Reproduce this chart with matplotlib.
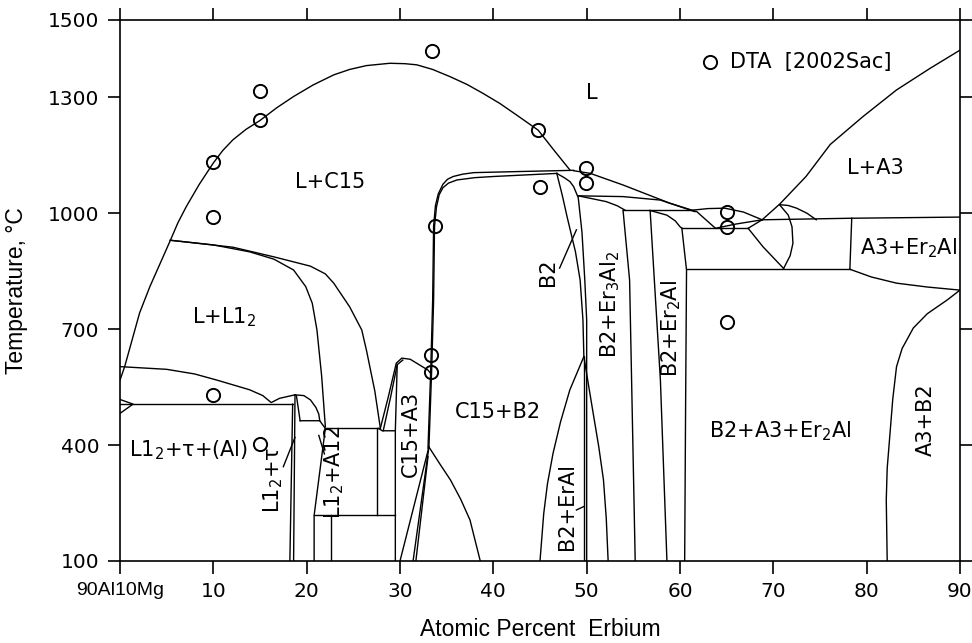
import matplotlib
matplotlib.use("Agg")
import matplotlib.pyplot as plt

# -------------------------
# Fasegrænser (x = at.% Er, T = °C)
# -------------------------
liq_l12 = [(0, 568), (0.5, 603), (1.1, 655), (2.1, 742), (3.2, 810), (4.3, 870), (5.4, 930)]
liq_c15 = [(5.4, 930), (6.2, 975), (7.1, 1017), (8.5, 1075), (10, 1130), (11, 1162),
           (12.1, 1190), (13.5, 1217), (15, 1240), (16.8, 1273), (18.6, 1302),
           (20.7, 1332), (22.9, 1358), (24.6, 1372), (26.4, 1382), (28.9, 1388),
           (30.5, 1387), (31.8, 1384), (33.5, 1372), (35.4, 1353), (37.2, 1333),
           (38.9, 1310), (40.7, 1284), (42.5, 1254), (44.8, 1215), (46.5, 1163),
           (48.2, 1112)]
l12_inner = [(5.4, 930), (10.0, 918), (13.9, 900), (16.5, 881), (18.6, 853), (19.9, 810),
             (20.6, 767), (21.1, 698), (21.6, 580), (22.0, 448)]
l12_outer = [(5.4, 930), (12.1, 912), (16.5, 887), (20.4, 863), (22.0, 843), (22.9, 819),
             (24.6, 758), (25.9, 698), (26.4, 646), (27.3, 540), (27.9, 443)]

al_solvus = [(0, 603), (5.0, 596), (8.0, 584), (10.4, 568), (13.9, 543), (15.3, 528),
             (16.2, 510), (17.1, 521), (18.75, 530)]
al_eutectic = [(0, 506), (18.5, 506)]
al_wedge = [(0, 518), (1.4, 506), (0, 482)]
tau_left = [(18.5, 506), (18.2, 100)]
tau_right = [(18.75, 530), (18.6, 100)]
tau_inner = [(18.9, 528), (19.3, 463)]
tau_dome = [(18.75, 530), (19.7, 528), (20.4, 517), (21.0, 497), (21.3, 480), (21.4, 463)]
h463 = [(19.3, 463), (21.4, 463), (22.0, 443)]
h443 = [(22.0, 443), (27.7, 443)]
a12_left = [(22.0, 443), (20.8, 218), (20.8, 100)]
h218 = [(20.8, 218), (29.5, 218)]
v22 = [(22.6, 218), (22.6, 100)]
v27 = [(27.5, 443), (27.5, 218)]
box_top = [(27.7, 443), (28.1, 437), (29.5, 437)]
v29 = [(29.7, 608), (29.5, 437), (29.5, 100)]

c15a3_outer = [(27.9, 444), (28.75, 525), (29.6, 612), (30.2, 625), (31.1, 622),
               (33.0, 594), (33.3, 585)]
c15a3_inner = [(28.2, 437), (29.0, 525), (29.7, 608), (30.3, 620)]
c15_diag1 = [(30.0, 100), (33.1, 395)]
c15_diag2 = [(31.4, 100), (33.1, 395)]
c15_diag3 = [(31.7, 100), (33.0, 370)]
c15_b2 = [(33.1, 395), (34.3, 350), (35.4, 310), (36.5, 260), (37.5, 206), (38.6, 100)]
c15_a = [(33.0, 392), (33.3, 600), (33.5, 775), (33.6, 966), (33.8, 1020), (34.1, 1050),
         (34.6, 1075), (35.1, 1088), (35.7, 1095), (36.7, 1101), (37.9, 1105),
         (43.0, 1108), (48.6, 1111)]
c15_b = [(33.1, 395), (33.4, 600), (33.6, 775), (33.7, 966), (33.9, 1015), (34.2, 1048),
         (34.6, 1066), (35.2, 1078), (36.1, 1086), (38.0, 1092), (40.0, 1095), (46.8, 1103)]

b2_left = [(46.8, 1103), (47.4, 1045), (47.9, 991), (48.8, 900), (49.3, 827), (49.6, 724),
           (49.7, 629)]
b2_right = [(46.8, 1103), (47.6, 1092), (48.2, 1082), (48.6, 1069), (49.1, 1040),
            (49.5, 950), (49.8, 827), (50.0, 724), (50.0, 100)]
eral_v = [(49.7, 629), (49.7, 100)]
eral_left = [(49.7, 629), (48.2, 543), (47.2, 460), (46.4, 379), (45.8, 300),
             (45.4, 223), (45.0, 100)]
eral_right = [(49.7, 629), (50.2, 555), (50.7, 482), (51.3, 395), (51.8, 310),
              (52.1, 210), (52.3, 100)]

liq_right = [(48.6, 1110), (50.4, 1103), (53.9, 1073), (58.9, 1026), (61.8, 1004), (63.8, 961)]
liq_second = [(49.1, 1045), (53.9, 1043), (57.9, 1034), (61.6, 1004)]
er3al2_top = [(49.1, 1045), (52.1, 1030), (53.3, 1019), (54.1, 1008)]
h1008 = [(53.9, 1008), (61.4, 1008)]
arc_dta = [(61.4, 1008), (63.0, 1012), (64.8, 1013), (66.8, 1003), (68.8, 983)]
v_line = [(63.8, 961), (66.0, 972), (68.8, 983)]
er3al2_right = [(53.9, 1007), (54.6, 827), (55.2, 100)]
er2al_left = [(56.8, 1007), (57.9, 568), (58.6, 100)]
er2al_top = [(56.8, 1007), (58.6, 995), (59.5, 980), (60.0, 965), (60.2, 961)]
er2al_right = [(60.2, 961), (60.7, 853), (60.6, 500), (60.5, 100)]
h961 = [(60.2, 961), (67.3, 961)]
h855 = [(60.7, 855), (78.2, 855)]
lens_left = [(67.3, 961), (68.9, 913), (71.1, 857)]
lens_right = [(70.7, 1021), (71.6, 995), (72.0, 965), (72.1, 922), (71.8, 890), (71.1, 857)]
lens_top = [(67.3, 961), (68.8, 983)]
liq_a3 = [(68.8, 983), (70.7, 1024), (73.5, 1095), (76.1, 1178), (79.6, 1250),
          (83.2, 1319), (86.8, 1375), (90, 1422)]
a3_dome = [(70.7, 1022), (71.6, 1020), (72.5, 1013), (73.6, 1000), (74.6, 983)]
h985 = [(68.8, 983), (78.4, 987), (90, 990)]
v78 = [(78.4, 987), (78.2, 855)]
er2al_a3 = [(78.2, 855), (80.5, 835), (83.2, 819), (86.5, 809), (90, 801)]
a3_b2 = [(90, 801), (88.6, 775), (86.5, 740), (85.0, 703), (83.8, 650), (83.2, 603),
         (82.8, 520), (82.5, 430), (82.2, 340), (82.1, 258), (82.2, 100)]

# små henvisningsstreger til labels
ptr_tau = [(17.5, 344), (18.75, 420)]
ptr_a12 = [(21.3, 425), (21.9, 377)]
ptr_b2 = [(47.1, 858), (48.9, 957)]
ptr_eral = [(48.9, 232), (49.7, 241)]

boundaries = [liq_l12, liq_c15, l12_inner, l12_outer, al_solvus, al_eutectic, al_wedge,
              tau_left, tau_right, tau_inner, tau_dome, h463, h443, a12_left, h218, v22,
              v27, box_top, v29, c15a3_outer, c15a3_inner, c15_diag1, c15_diag2, c15_diag3,
              c15_b2, c15_a, c15_b, b2_left, b2_right, eral_v, eral_left, eral_right,
              liq_right, liq_second, er3al2_top, h1008, arc_dta, v_line, er3al2_right,
              er2al_left, er2al_top, er2al_right, h961, h855, lens_left, lens_right,
              lens_top, liq_a3, a3_dome, h985, v78, er2al_a3, a3_b2,
              ptr_tau, ptr_a12, ptr_b2, ptr_eral]

# DTA-data [2002Sac]
dta_x = [10, 10, 15, 15, 10, 15, 33.4, 33.7, 33.3, 33.3, 44.8, 45.0, 49.9, 49.9, 65, 65, 65]
dta_T = [1133, 991, 1315, 1240, 530, 403, 1421, 967, 633, 590, 1215, 1067, 1116, 1077,
         1002, 964, 719]

# fase-labels: (x, T, tekst, rotation)
labels = [
    (50.6, 1310, "L", 0),
    (22.5, 1080, "L+C15", 0),
    (11.2, 730, r"L+L1$_2$", 0),
    (7.3, 387, r"L1$_2$+τ+(Al)", 0),
    (16.4, 310, r"L1$_2$+τ", 90),
    (23.0, 330, r"L1$_2$+A12", 90),
    (31.2, 429, "C15+A3", 90),
    (40.5, 486, "C15+B2", 0),
    (45.9, 848, "B2", 90),
    (52.5, 765, r"B2+Er$_3$Al$_2$", 90),
    (47.9, 242, "B2+ErAl", 90),
    (59.1, 703, r"B2+Er$_2$Al", 90),
    (70.7, 435, r"B2+A3+Er$_2$Al", 0),
    (86.3, 465, "A3+B2", 90),
    (80.9, 1116, "L+A3", 0),
    (84.5, 909, r"A3+Er$_2$Al", 0),
]

xticks = [0, 10, 20, 30, 40, 50, 60, 70, 80, 90]
xticklabels = ["90Al10Mg", "10", "20", "30", "40", "50", "60", "70", "80", "90"]
yticks = [100, 400, 700, 1000, 1300, 1500]

# -------------------------
# Plot
# -------------------------
plt.rcParams["font.family"] = ["DejaVu Sans"]
plt.rcParams["mathtext.fontset"] = "dejavusans"

fig = plt.figure(figsize=(9.72, 6.43), dpi=100)
ax = fig.add_axes([120 / 972, 1 - 561 / 643, 840 / 972, 541 / 643])

for line in boundaries:
    xs = [p[0] for p in line]
    ts = [p[1] for p in line]
    ax.plot(xs, ts, color="black", lw=1.0, solid_joinstyle="round")

ax.plot(dta_x, dta_T, "o", ms=9.5, mfc="none", mec="black", mew=1.4)

# legende
ax.plot([63.2], [1392], "o", ms=9.5, mfc="none", mec="black", mew=1.4)
ax.text(65.4, 1392, "DTA  [2002Sac]", fontsize=15, va="center", ha="left")

for x, t, s, rot in labels:
    ax.text(x, t, s, fontsize=15, ha="center", va="center", rotation=rot)

ax.set_xlim(0, 90)
ax.set_ylim(100, 1500)
ax.set_xticks(xticks)
ax.set_xticklabels(xticklabels)
ax.set_yticks(yticks)
ax.tick_params(direction="out", length=9, width=1.2, labelsize=14.5,
               top=True, right=True, pad=6)
ax.get_xticklabels()[0].set_fontfamily("Liberation Sans")
ax.get_xticklabels()[0].set_fontsize(14)
for sp in ax.spines.values():
    sp.set_linewidth(1.2)

ax.set_xlabel("Atomic Percent  Erbium", fontsize=16.5, family="Liberation Sans", labelpad=12)
ax.set_ylabel("Temperature, °C", fontsize=16.5, family="Liberation Sans", labelpad=14)

fig.savefig("out.png", dpi=100)
